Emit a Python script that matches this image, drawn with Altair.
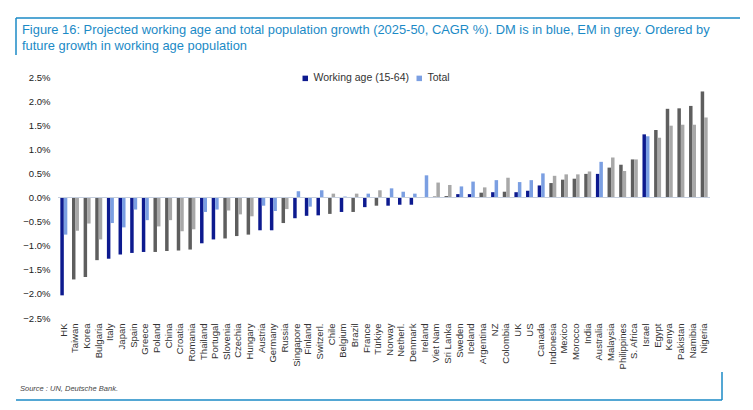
import altair as alt
import pandas as pd

countries = [
    "HK", "Taiwan", "Korea", "Bulgaria", "Italy", "Japan", "Spain", "Greece",
    "Poland", "China", "Croatia", "Romania", "Thailand", "Portugal", "Slovenia",
    "Czechia", "Hungary", "Austria", "Germany", "Russia", "Singapore", "Finland",
    "Switzerl.", "Chile", "Belgium", "Brazil", "France", "Türkiye", "Norway",
    "Netherl.", "Denmark", "Ireland", "Viet Nam", "Sri Lanka", "Sweden", "Iceland",
    "Argentina", "NZ", "Colombia", "UK", "US", "Canada", "Indonesia", "Mexico",
    "Morocco", "India", "Australia", "Malaysia", "Philippines", "S. Africa",
    "Israel", "Egypt", "Kenya", "Pakistan", "Namibia", "Nigeria",
]
working_age = [
    -2.03, -1.70, -1.65, -1.30, -1.27, -1.18, -1.15, -1.13, -1.13, -1.11, -1.10,
    -1.08, -0.95, -0.87, -0.85, -0.80, -0.77, -0.68, -0.68, -0.53, -0.43, -0.38,
    -0.37, -0.34, -0.30, -0.30, -0.20, -0.17, -0.17, -0.15, -0.15, 0.01, 0.02,
    0.03, 0.07, 0.07, 0.10, 0.11, 0.12, 0.11, 0.14, 0.25, 0.30, 0.37, 0.39, 0.49,
    0.49, 0.62, 0.68, 0.79, 1.31, 1.40, 1.84, 1.85, 1.90, 2.20,
]
total = [
    -0.77, -0.69, -0.54, -0.87, -0.53, -0.62, -0.25, -0.47, -0.60, -0.47, -0.70,
    -0.66, -0.30, -0.25, -0.27, -0.35, -0.39, -0.17, -0.28, -0.24, 0.13, -0.19,
    0.15, 0.08, 0.02, 0.08, 0.08, 0.15, 0.19, 0.12, 0.08, 0.46, 0.31, 0.26, 0.23,
    0.33, 0.21, 0.36, 0.41, 0.32, 0.36, 0.50, 0.45, 0.48, 0.48, 0.54, 0.74, 0.83,
    0.55, 0.79, 1.27, 1.24, 1.49, 1.51, 1.51, 1.66,
]
# coloured blue in the source (DM)
dm = {
    "HK", "Italy", "Japan", "Spain", "Greece", "Thailand", "Portugal", "Austria",
    "Germany", "Singapore", "Finland", "Switzerl.", "Belgium", "France", "Norway",
    "Netherl.", "Denmark", "Ireland", "Sweden", "Iceland", "NZ", "UK", "US",
    "Canada", "Australia", "Israel",
}
y_ticks = [-2.5, -2.0, -1.5, -1.0, -0.5, 0.0, 0.5, 1.0, 1.5, 2.0, 2.5]
title_lines = [
    "Figure 16: Projected working age and total population growth (2025-50, CAGR %). DM is in blue, EM in grey. Ordered by",
    "future growth in working age population",
]

WA = "Working age (15-64)"
TOT = "Total"
BLUE = "#1b8ac6"
FONT = "Liberation Sans"

rows = []
for c, w, t in zip(countries, working_age, total):
    em = "" if c in dm else " EM"
    rows.append({"country": c, "series": "wa", "key": WA + em, "value": w})
    rows.append({"country": c, "series": "tot", "key": TOT + em, "value": t})
df = pd.DataFrame(rows)

bars = alt.Chart(df).mark_bar().encode(
    x=alt.X("country:N", sort=countries, title=None,
            scale=alt.Scale(paddingInner=0.4, paddingOuter=0.2),
            axis=alt.Axis(labelAngle=-90, ticks=False, domain=False,
                          labelFontSize=9.5, labelColor="#333", labelPadding=5)),
    xOffset=alt.XOffset("series:N", sort=["wa", "tot"]),
    # tickCount high, otherwise vega thins the explicit values
    y=alt.Y("value:Q", title=None, scale=alt.Scale(domain=[-2.5, 2.5], nice=False),
            axis=alt.Axis(values=y_ticks, tickCount=20,
                          labelExpr="format(datum.value, '.1f') + '%'",
                          grid=False, ticks=False, domain=False, labelFontSize=9.5,
                          labelColor="#222", labelPadding=8, labelOverlap=False)),
    color=alt.Color("key:N",
                    scale=alt.Scale(domain=[WA, TOT, WA + " EM", TOT + " EM"],
                                    range=["#0d1a8f", "#7b9fe2", "#5e5e5e", "#a8a8a8"]),
                    legend=alt.Legend(values=[WA, TOT], title=None, orient="none",
                                      legendX=242, legendY=-4, direction="horizontal",
                                      symbolType="square", symbolSize=30,
                                      labelFontSize=10.5, labelColor="#333",
                                      columnPadding=4, labelOffset=3)),
)

one = pd.DataFrame({"a": [0]})

zero = alt.Chart(one).mark_rule(color="#c5cedd", strokeWidth=1).encode(
    y=alt.datum(0))

frame = [
    alt.Chart(one).mark_rule(color=BLUE, strokeWidth=1.5).encode(
        x=alt.value(x1), x2=alt.value(x2), y=alt.value(y1), y2=alt.value(y2))
    for x1, x2, y1, y2 in [(-42, 682, -59, -59), (-42, -42, -59, -22),
                           (-42, 664, 323, 323), (664, 664, 295, 323)]
]

title = alt.Chart(one).mark_text(
    text=title_lines, align="left", baseline="middle", fontSize=12.9,
    lineHeight=16, color=BLUE, font=FONT,
).encode(x=alt.value(-36), y=alt.value(-47))

source = alt.Chart(one).mark_text(
    text="Source : UN, Deutsche Bank.", align="left", baseline="middle",
    fontSize=7.5, fontStyle="italic", color="#444", font=FONT,
).encode(x=alt.value(-38), y=alt.value(312))

chart = alt.layer(bars, zero, title, source, *frame).properties(
    width=652, height=241,
    autosize=alt.AutoSizeParams(type="none"),
    padding={"left": 50, "top": 69, "right": 30, "bottom": 84},
).configure(font=FONT).configure_view(stroke=None)

chart.save("out.html", embed_options={"renderer": "svg", "actions": False})
